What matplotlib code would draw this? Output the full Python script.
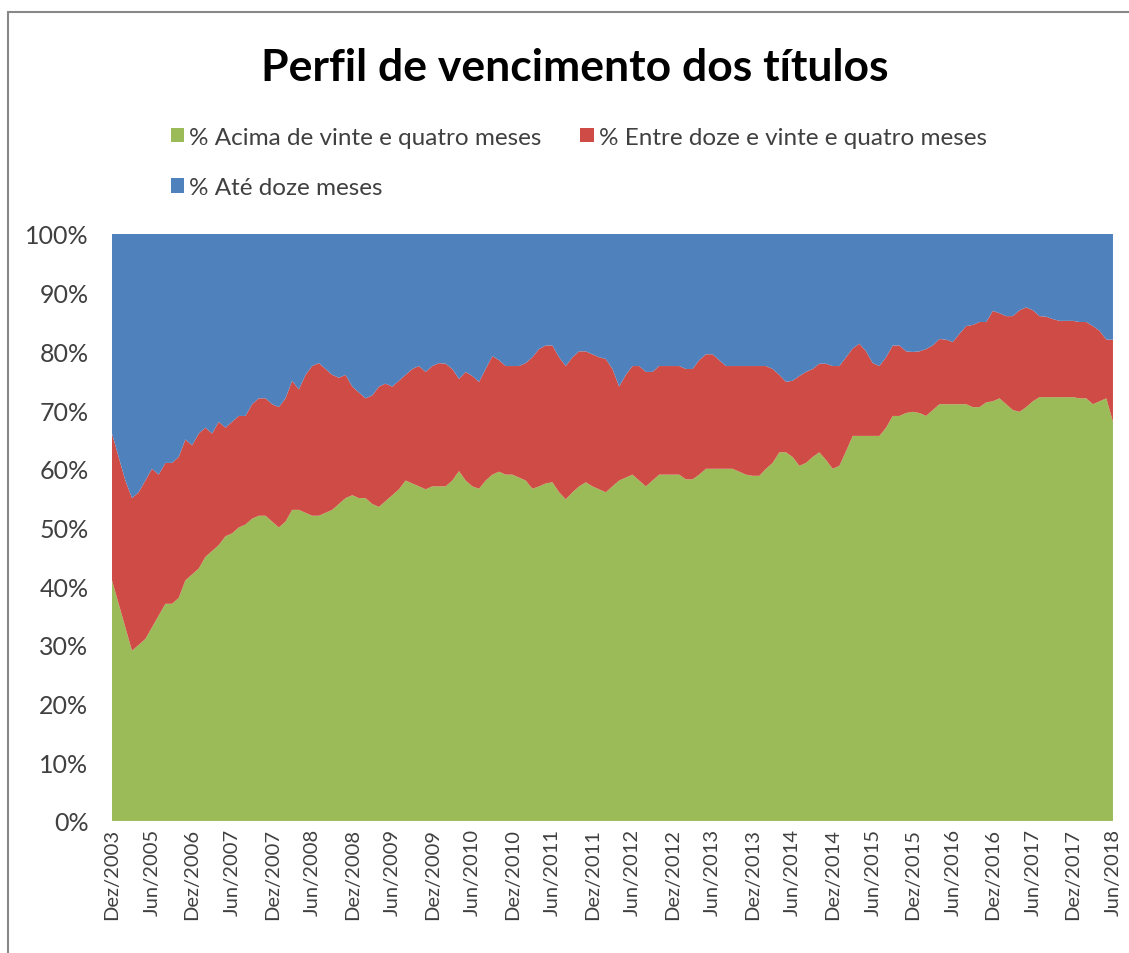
import numpy as np
import matplotlib
matplotlib.use('Agg')
import matplotlib.pyplot as plt
from matplotlib.patches import Patch, Rectangle

'''
Perfil de vencimento dos titulos - shares in % of the stock
Categories: quarterly Dez/2003 - Set/2006, then monthly Dez/2006 - Jun/2018
'''

# % Acima de vinte e quatro meses
acima = [41, 37, 33, 29, 30, 31, 33,
         35, 37, 37, 38, 41, 42,
         43, 45, 46, 47, 48.5, 49,
         50, 50.5, 51.5, 52, 52, 51,
         50, 51, 53, 53, 52.5, 52,
         52, 52.5, 53, 54, 55, 55.5,
         55, 55, 54, 53.5, 54.5, 55.5,
         56.5, 58, 57.5, 57, 56.5, 57,
         57, 57, 58, 59.6, 58, 57,
         56.6, 58, 59, 59.5, 59, 59,
         58.5, 58, 56.6, 57, 57.5, 57.7,
         56, 54.8, 56, 57, 57.7, 57,
         56.5, 56, 57, 58, 58.5, 59,
         58, 57, 58, 59, 59, 59,
         59, 58.2, 58.2, 59, 60, 60,
         60, 60, 60, 59.5, 59, 58.8,
         58.8, 60, 61, 62.8, 62.8, 62,
         60.5, 61, 62, 62.8, 61.5, 60,
         60.5, 63, 65.6, 65.6, 65.6, 65.6,
         65.6, 67, 69, 69, 69.5, 69.7,
         69.5, 69, 70, 71, 71, 71,
         71, 71, 70.5, 70.5, 71.3, 71.5,
         72, 71, 70, 69.7, 70.5, 71.5,
         72.2, 72.2, 72.2, 72.2, 72.2, 72.2,
         72, 72, 71, 71.5, 72, 68]

# % Entre doze e vinte e quatro meses
entre = [25, 25, 25, 26, 26, 27, 27,
         24, 24, 24, 24, 24, 22,
         23, 22, 20, 21, 18.5, 19,
         19, 18.5, 19.5, 20, 20, 20,
         20.5, 21, 22, 20.5, 23.5, 25.5,
         26, 24.5, 23, 21.5, 21, 18.5,
         18, 17, 18.5, 20.5, 20, 18.5,
         18.5, 18, 19.5, 20.5, 20, 20.5,
         21, 20.9, 19, 15.7, 18.5, 18.8,
         18.2, 19, 20.2, 19, 18.5, 18.5,
         19, 20, 22.4, 23.4, 23.5, 23.3,
         23, 22.7, 23, 23, 22.3, 22.5,
         22.5, 22.7, 20, 16, 17.5, 18.5,
         19.5, 19.5, 18.5, 18.5, 18.5, 18.5,
         18.5, 18.8, 18.8, 19.5, 19.5, 19.5,
         18.5, 17.5, 17.5, 18, 18.5, 18.7,
         18.7, 17.5, 16, 13.2, 12, 13,
         15.3, 15.5, 15, 15.1, 16.4, 17.5,
         17, 16, 14.9, 15.7, 14.4, 12.4,
         11.9, 12, 12, 12, 10.5, 10.2,
         10.5, 11.4, 11, 11.1, 11, 10.6,
         12, 13.3, 14, 14.5, 13.7, 15.4,
         14.5, 15, 16, 17.3, 17, 15.5,
         13.8, 13.7, 13.3, 13, 13, 13,
         13, 13, 13.3, 12, 10, 14]

# % Ate doze meses
ate = [34, 38, 42, 45, 44, 42, 40,
       41, 39, 39, 38, 35, 36,
       34, 33, 34, 32, 33, 32,
       31, 31, 29, 28, 28, 29,
       29.5, 28, 25, 26.5, 24, 22.5,
       22, 23, 24, 24.5, 24, 26,
       27, 28, 27.5, 26, 25.5, 26,
       25, 24, 23, 22.5, 23.5, 22.5,
       22, 22.1, 23, 24.7, 23.5, 24.2,
       25.2, 23, 20.8, 21.5, 22.5, 22.5,
       22.5, 22, 21, 19.6, 19, 19,
       21, 22.5, 21, 20, 20, 20.5,
       21, 21.3, 23, 26, 24, 22.5,
       22.5, 23.5, 23.5, 22.5, 22.5, 22.5,
       22.5, 23, 23, 21.5, 20.5, 20.5,
       21.5, 22.5, 22.5, 22.5, 22.5, 22.5,
       22.5, 22.5, 23, 24, 25.2, 25,
       24.2, 23.5, 23, 22.1, 22.1, 22.5,
       22.5, 21, 19.5, 18.7, 20, 22,
       22.5, 21, 19, 19, 20, 20.1,
       20, 19.6, 19, 17.9, 18, 18.4,
       17, 15.7, 15.5, 15, 15, 13.1,
       13.5, 14, 14, 13, 12.5, 13,
       14, 14.1, 14.5, 14.8, 14.8, 14.8,
       15, 15, 15.7, 16.5, 18, 18]

tickLabels = ['Dez/2003', 'Jun/2005', 'Dez/2006', 'Jun/2007', 'Dez/2007', 'Jun/2008',
              'Dez/2008', 'Jun/2009', 'Dez/2009', 'Jun/2010', 'Dez/2010', 'Jun/2011',
              'Dez/2011', 'Jun/2012', 'Dez/2012', 'Jun/2013', 'Dez/2013', 'Jun/2014',
              'Dez/2014', 'Jun/2015', 'Dez/2015', 'Jun/2016', 'Dez/2016', 'Jun/2017',
              'Dez/2017', 'Jun/2018']

names = ['% Acima de vinte e quatro meses', '% Entre doze e vinte e quatro meses',
         '% Até doze meses']
colors = ['#9BBB59', '#CF4B45', '#4F81BD']

plt.rcParams['font.family'] = ['Lato', 'DejaVu Sans']

fig = plt.figure(figsize=(11.29, 9.54), dpi=100)
ax = fig.add_axes([0.0992, 0.1384, 0.8866, 0.6153])

# 100% stacked area
xCat = np.arange(len(acima))
tot = np.array(acima) + np.array(entre) + np.array(ate)
shares = [100*np.array(s)/tot for s in (acima, entre, ate)]
ax.stackplot(xCat, shares, colors=colors, linewidth=0)

ax.set_xlim(0, len(acima)-1)
ax.set_ylim(0, 100)
ax.set_yticks(np.arange(0, 101, 10))
ax.set_yticklabels(['{}%'.format(v) for v in range(0, 101, 10)], fontsize=18, color='#404040')
ax.set_xticks(np.arange(0, len(acima), 6))
ax.set_xticklabels(tickLabels, rotation=90, fontsize=14.5, color='#404040')
ax.tick_params(axis='x', length=0, pad=5)
ax.tick_params(axis='y', length=0, pad=17)
for s in ax.spines.values():
    s.set_visible(False)

fig.text(0.509, 0.929, 'Perfil de vencimento dos títulos', ha='center', va='center',
         fontsize=32, fontweight='bold')

# legend order: row-major like Excel (column 1: acima, ate; column 2: entre)
order = [0, 2, 1]
handles = [Patch(facecolor=colors[i]) for i in order]
fig.legend(handles, [names[i] for i in order], loc='upper left', bbox_to_anchor=(0.132, 0.889),
           ncol=2, frameon=False, fontsize=17.5, handlelength=0.55, handleheight=0.55,
           handletextpad=0.2, columnspacing=1.6, labelspacing=1.2, labelcolor='#404040')

# outer chart border
fig.patches.append(Rectangle((0.007, -0.01), 1.0, 0.996, transform=fig.transFigure,
                             fill=False, edgecolor='#888888', linewidth=1.5))

plt.savefig('out.png', dpi=100)
